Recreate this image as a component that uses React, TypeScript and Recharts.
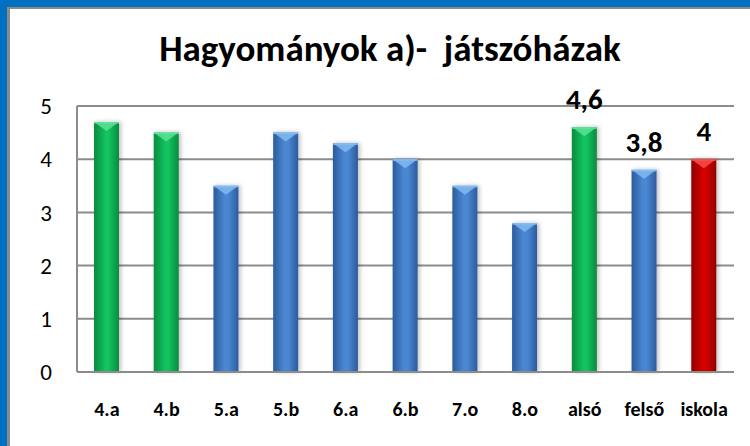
import { BarChart, Bar, XAxis, YAxis, CartesianGrid, LabelList } from 'recharts';

const categories = ['4.a', '4.b', '5.a', '5.b', '6.a', '6.b', '7.o', '8.o', 'alsó', 'felső', 'iskola'];
const values = [4.7, 4.5, 3.5, 4.5, 4.3, 4.0, 3.5, 2.8, 4.6, 3.8, 4.0];
const barKinds = ['green', 'green', 'blue', 'blue', 'blue', 'blue', 'blue', 'blue', 'green', 'blue', 'red'];
const valueLabels = ['', '', '', '', '', '', '', '', '4,6', '3,8', '4'];
const yTicks = [0, 1, 2, 3, 4, 5];

const FONT = "Carlito, 'Liberation Sans Narrow', 'Open Sans', sans-serif";

const palette: Record<string, { edge: string; mid: string; top: string }> = {
  green: { edge: '#078a3e', mid: '#12c25e', top: '#5fe39a' },
  blue: { edge: '#2b5b9c', mid: '#4a87d2', top: '#86bdf2' },
  red: { edge: '#8e0000', mid: '#d40404', top: '#ff5050' },
};

const data = categories.map((name, i) => ({
  name,
  value: values[i],
  kind: barKinds[i],
  label: valueLabels[i],
}));

function CylinderBar(props: any) {
  const { x, y, width, height, payload } = props;
  if (!height || height <= 0) return null;
  const kind = payload.kind;
  const p = palette[kind];
  const tip = Math.min(9, height);
  return (
    <g filter="url(#barShadow)">
      <rect x={x} y={y} width={width} height={height} fill={`url(#grad-${kind})`} />
      <polygon points={`${x},${y} ${x + width},${y} ${x + width / 2},${y + tip}`} fill={p.top} opacity={0.8} />
      <rect x={x} y={y} width={width} height={1.5} fill={p.top} />
    </g>
  );
}

export default function App() {
  return (
    <div style={{ position: 'relative', width: 750, height: 446, background: '#fff', overflow: 'hidden', fontFamily: FONT }}>
      <style>{'body{margin:0}'}</style>
      <div style={{ position: 'absolute', left: 0, top: 0, width: 750, height: 7, background: '#0070c0' }} />
      <div style={{ position: 'absolute', left: 0, top: 0, width: 7, height: 446, background: '#0070c0' }} />
      <div style={{ position: 'absolute', left: 7, top: 7, width: 743, height: 2, background: '#8a8a8a' }} />
      <div style={{ position: 'absolute', left: 7, top: 7, width: 3, height: 439, background: '#8a8a8a' }} />
      <div
        style={{
          position: 'absolute',
          left: 15,
          top: 29,
          width: 750,
          textAlign: 'center',
          fontWeight: 'bold',
          fontSize: 37,
          lineHeight: '40px',
          color: '#000',
          whiteSpace: 'pre',
        }}
      >
        {'Hagyományok a)-  játszóházak'}
      </div>
      <div style={{ position: 'absolute', left: 0, top: 0 }}>
        <BarChart width={750} height={446} data={data} margin={{ top: 106, right: 16, bottom: 44, left: 0 }}>
          <defs>
            {Object.keys(palette).map((k) => (
              <linearGradient key={k} id={`grad-${k}`} x1="0" y1="0" x2="1" y2="0">
                <stop offset="0%" stopColor={palette[k].edge} />
                <stop offset="45%" stopColor={palette[k].mid} />
                <stop offset="60%" stopColor={palette[k].mid} />
                <stop offset="100%" stopColor={palette[k].edge} />
              </linearGradient>
            ))}
            <filter id="barShadow" x="-30%" y="-10%" width="170%" height="120%">
              <feDropShadow dx="2" dy="0" stdDeviation="2" floodColor="#000" floodOpacity="0.25" />
            </filter>
          </defs>
          <CartesianGrid vertical={false} stroke="#8c8c8c" strokeWidth={2} />
          <XAxis
            dataKey="name"
            height={30}
            axisLine={{ stroke: '#8c8c8c', strokeWidth: 2 }}
            tickLine={false}
            tickSize={0}
            tickMargin={30}
            interval={0}
            tick={{ fill: '#000', fontSize: 20, fontWeight: 'bold', fontFamily: FONT }}
          />
          <YAxis
            width={77}
            domain={[0, 5]}
            ticks={yTicks}
            axisLine={{ stroke: '#8c8c8c', strokeWidth: 2 }}
            tickLine={false}
            tickSize={0}
            tickMargin={25}
            tick={{ fill: '#000', fontSize: 23, fontFamily: FONT }}
          />
          <Bar dataKey="value" barSize={25} shape={<CylinderBar />} isAnimationActive={false}>
            <LabelList
              dataKey="label"
              position="top"
              offset={18}
              style={{ fill: '#000', fontSize: 29, fontWeight: 'bold', fontFamily: FONT }}
            />
          </Bar>
        </BarChart>
      </div>
    </div>
  );
}
